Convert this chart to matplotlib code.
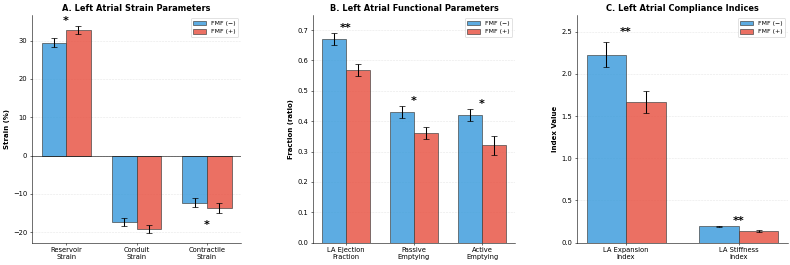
import numpy as np
import matplotlib
matplotlib.use('Agg')
import matplotlib.pyplot as plt

# data
strain_labels = ['Reservoir\nStrain', 'Conduit\nStrain', 'Contractile\nStrain']
strain_neg = [29.5, -17.3, -12.3]
strain_neg_err = [1.2, 1.1, 1.2]
strain_pos = [32.8, -19.2, -13.7]
strain_pos_err = [1.1, 1.0, 1.2]
strain_sig = ['*', '', '*']

func_labels = ['LA Ejection\nFraction', 'Passive\nEmptying', 'Active\nEmptying']
func_neg = [0.67, 0.43, 0.42]
func_neg_err = [0.02, 0.02, 0.02]
func_pos = [0.57, 0.36, 0.32]
func_pos_err = [0.02, 0.02, 0.03]
func_sig = ['**', '*', '*']

comp_labels = ['LA Expansion\nIndex', 'LA Stiffness\nIndex']
comp_neg = [2.23, 0.19]
comp_neg_err = [0.15, 0.01]
comp_pos = [1.67, 0.14]
comp_pos_err = [0.13, 0.01]
comp_sig = ['**', '**']

c_neg = '#3498db'
c_pos = '#e74c3c'
w = 0.35

fig = plt.figure(figsize=(15.8, 5.3), dpi=50)
boxes = [(32, 241), (313, 515), (577, 788)]
axes = [fig.add_axes([l / 790, 22.5 / 265, (r - l) / 790, 227.5 / 265]) for l, r in boxes]


def draw(ax, labels, neg, neg_err, pos, pos_err, sig, title, ylabel, offs, ylim):
    x = np.arange(len(labels))
    ax.bar(x - w / 2, neg, w, yerr=neg_err, capsize=5, color=c_neg, alpha=0.8,
           edgecolor='#444444', linewidth=1.2, label='FMF (−)', error_kw={'elinewidth': 1.5})
    ax.bar(x + w / 2, pos, w, yerr=pos_err, capsize=5, color=c_pos, alpha=0.8,
           edgecolor='#444444', linewidth=1.2, label='FMF (+)', error_kw={'elinewidth': 1.5})
    for i, s in enumerate(sig):
        if not s:
            continue
        if neg[i] >= 0:
            y = max(neg[i] + neg_err[i], pos[i] + pos_err[i]) + offs[i]
            ax.text(x[i], y, s, ha='center', va='bottom', fontsize=16, fontweight='bold')
        else:
            y = min(neg[i] - neg_err[i], pos[i] - pos_err[i]) - offs[i]
            ax.text(x[i], y, s, ha='center', va='top', fontsize=16, fontweight='bold')
    ax.set_xticks(x)
    ax.set_xticklabels(labels, fontsize=9.7)
    ax.set_ylabel(ylabel, fontsize=10, fontweight='bold')
    ax.set_title(title, fontsize=11.8, fontweight='bold')
    ax.set_ylim(ylim)
    ax.tick_params(axis='y', labelsize=9.7)
    ax.legend(loc='upper right', fontsize=9)
    ax.grid(axis='y', alpha=0.3, linestyle='--')
    ax.set_axisbelow(True)
    ax.spines['top'].set_visible(False)
    ax.spines['right'].set_visible(False)


draw(axes[0], strain_labels, strain_neg, strain_neg_err, strain_pos, strain_pos_err, strain_sig,
     'A. Left Atrial Strain Parameters', 'Strain (%)', [-0.2, 0, 1.8], (-22.7, 36.7))
axes[0].axhline(0, color='black', linewidth=0.8)
draw(axes[1], func_labels, func_neg, func_neg_err, func_pos, func_pos_err, func_sig,
     'B. Left Atrial Functional Parameters', 'Fraction (ratio)', [0, 0, 0], (0, 0.75))
draw(axes[2], comp_labels, comp_neg, comp_neg_err, comp_pos, comp_pos_err, comp_sig,
     'C. Left Atrial Compliance Indices', 'Index Value', [0.06, 0.0], (0, 2.7))

plt.savefig('out.png', dpi=50)
